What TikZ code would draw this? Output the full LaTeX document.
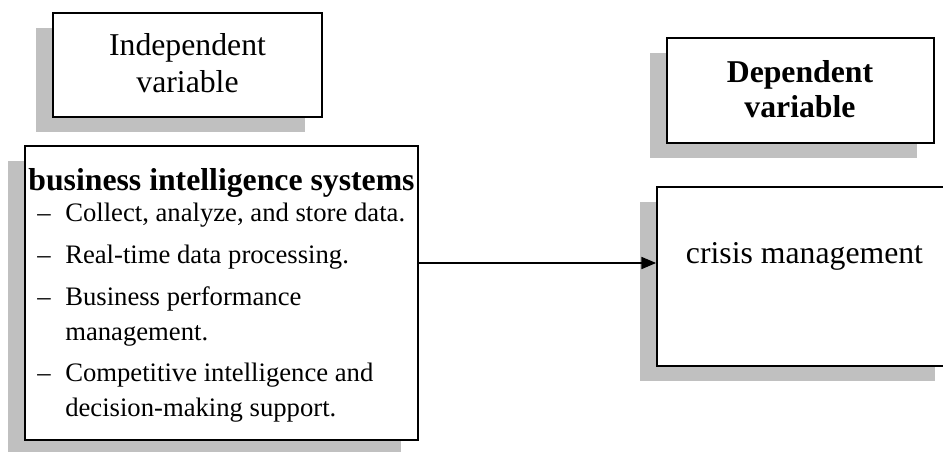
\documentclass[tikz,border=0pt]{standalone}
\usepackage{fontspec}
\setmainfont{Liberation Serif}
\usetikzlibrary{arrows.meta,fit,shadows}
\definecolor{shadowgray}{RGB}{192,192,192}
\tikzset{
  box/.style={draw, line width=1.3pt, fill=white, inner sep=0pt,
    drop shadow={shadow xshift=-12.75pt, shadow yshift=-11.25pt,
      fill=shadowgray, opacity=1}},
  head/.style={inner sep=0pt, anchor=base, font=\fontsize{23.8}{28}\selectfont},
  bold/.style={head, font=\fontsize{23.8}{28}\selectfont\bfseries},
  item/.style={inner sep=0pt, anchor=base west, font=\fontsize{20}{24}\selectfont}
}
\begin{document}
\begin{tikzpicture}[x=0.75pt,y=-0.75pt]
  \useasboundingbox (0,0) rectangle (943,451);
  \clip (0,0) rectangle (943,451);

  % boxes
  \node[box, fit={(53,13) (322,117)}] (indep) {};
  \node[box, fit={(25,146) (418,440)}] (bis) {};
  \node[box, fit={(667,38) (934,143)}] (dep) {};
  \node[box, fit={(657,187) (952,366)}] (crisis) {};

  % headings
  \node[head] (indep-a) at (187.5,55) {Independent};
  \node[head] (indep-b) at (187.5,92) {variable};
  \node[bold] (dep-a) at (800,82) {Dependent};
  \node[bold] (dep-b) at (800,117) {variable};
  \node[bold] (bis-title) at (221.5,190) {business intelligence systems};
  \node[head] (crisis-txt) at (804.5,263) {crisis management};

  % list
  \foreach \y/\t [count=\i] in {221/{Collect, analyze, and store data.},
      263/{Real-time data processing.}, 305/{Business performance},
      340/{management.}, 381/{Competitive intelligence and},
      416/{decision-making support.}}
    \node[item] (bis-\i) at (65,\y) {\t};
  \foreach \y in {221,263,305,381}
    \node[item] (dash-\y) at (37,\y) {–};

  \coordinate (link) at (0,263);
  \draw[-{Triangle[length=11pt,width=9pt]}, line width=1.2pt] (bis.east |- link) -- (crisis.west |- link);
\end{tikzpicture}
\end{document}
